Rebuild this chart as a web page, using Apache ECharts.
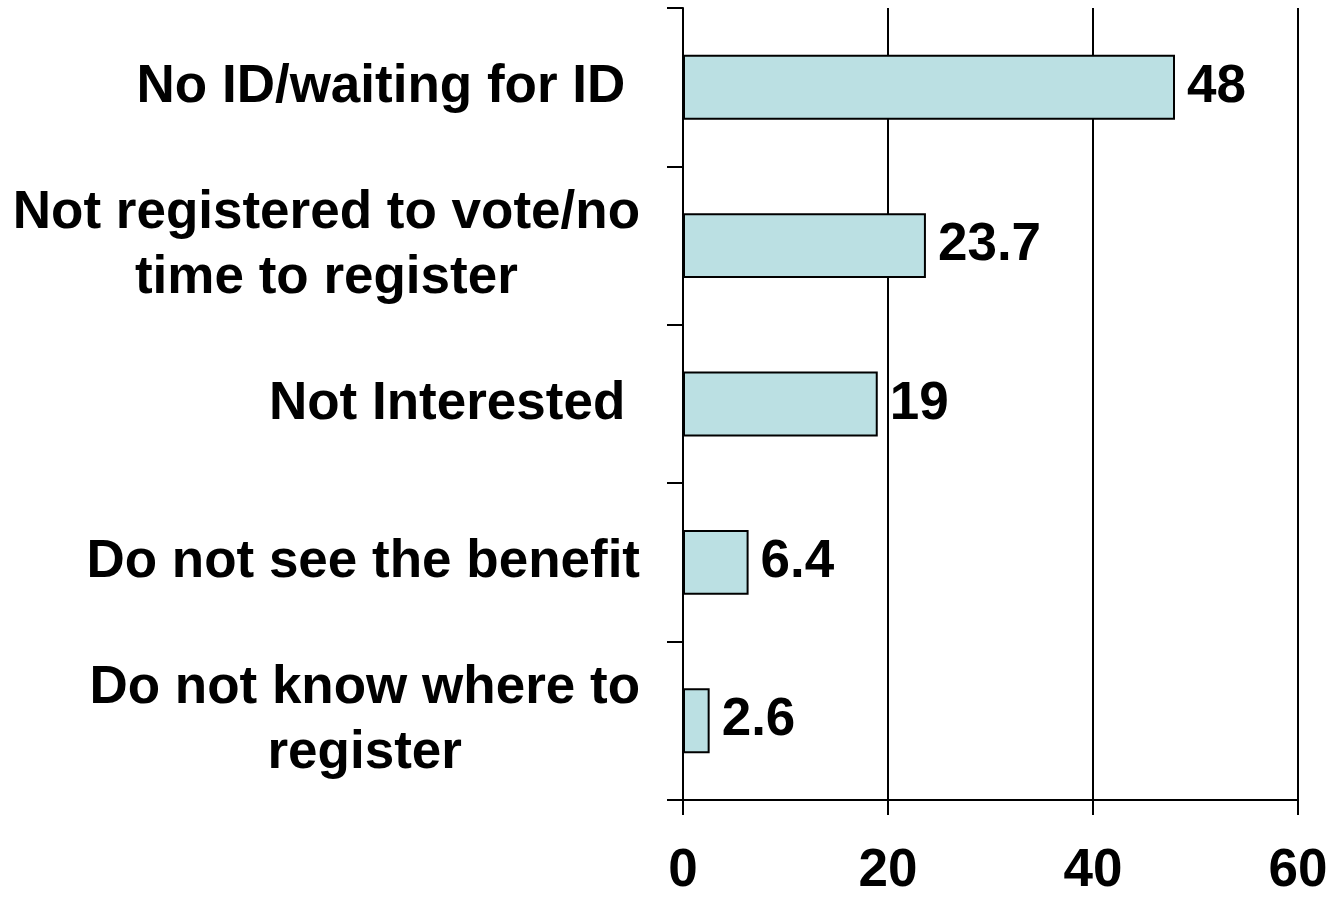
<!DOCTYPE html>
<html>
<head>
<meta charset="utf-8">
<script src="https://cdn.jsdelivr.net/npm/echarts@6/dist/echarts.min.js"></script>
<style>
html,body{margin:0;padding:0;background:#fff;}
#chart{width:1332px;height:898px;}
</style>
</head>
<body>
<div id="chart"></div>
<script>
const categories = [
  "No ID/waiting for ID ",
  "Not registered to vote/no\ntime to register",
  "Not Interested ",
  "Do not see the benefit",
  "Do not know where to\nregister"
];
const values = [48, 23.7, 19, 6.4, 2.6];
const xTicks = { min: 0, max: 60, interval: 20 };

const FONT = '"Liberation Sans", Arial, sans-serif';
const chart = echarts.init(document.getElementById('chart'), null, { renderer: 'canvas' });
chart.setOption({
  backgroundColor: '#ffffff',
  animation: false,
  grid: { left: 683, right: 34, top: 8, bottom: 98, containLabel: false },
  xAxis: {
    type: 'value',
    min: xTicks.min, max: xTicks.max, interval: xTicks.interval,
    axisLine: { show: true, lineStyle: { color: '#000', width: 2 } },
    axisTick: { show: true, length: 15, lineStyle: { color: '#000', width: 2 } },
    splitLine: { show: true, lineStyle: { color: '#000', width: 2 } },
    axisLabel: { color: '#000', fontSize: 53, fontWeight: 'bold', fontFamily: FONT, margin: 45 }
  },
  yAxis: {
    type: 'category',
    data: categories,
    inverse: true,
    axisLine: { show: true, lineStyle: { color: '#000', width: 2 } },
    axisTick: { show: true, length: 16, lineStyle: { color: '#000', width: 2 } },
    splitLine: { show: false },
    axisLabel: {
      margin: 43,
      formatter: function (v) {
        return v.split('\n').map(function (l) { return '{c|' + l + '}'; }).join('\n');
      },
      rich: {
        c: { align: 'center', color: '#000', fontSize: 53, fontWeight: 'bold', fontFamily: FONT, lineHeight: 65 }
      }
    }
  },
  series: [{
    type: 'bar',
    data: values,
    barWidth: '41%',
    itemStyle: { color: '#BBE0E3', borderColor: '#000', borderWidth: 2 },
    label: {
      show: true, position: 'right', distance: 12,
      color: '#000', fontSize: 53, fontWeight: 'bold', fontFamily: FONT
    }
  }]
});
</script>
</body>
</html>
